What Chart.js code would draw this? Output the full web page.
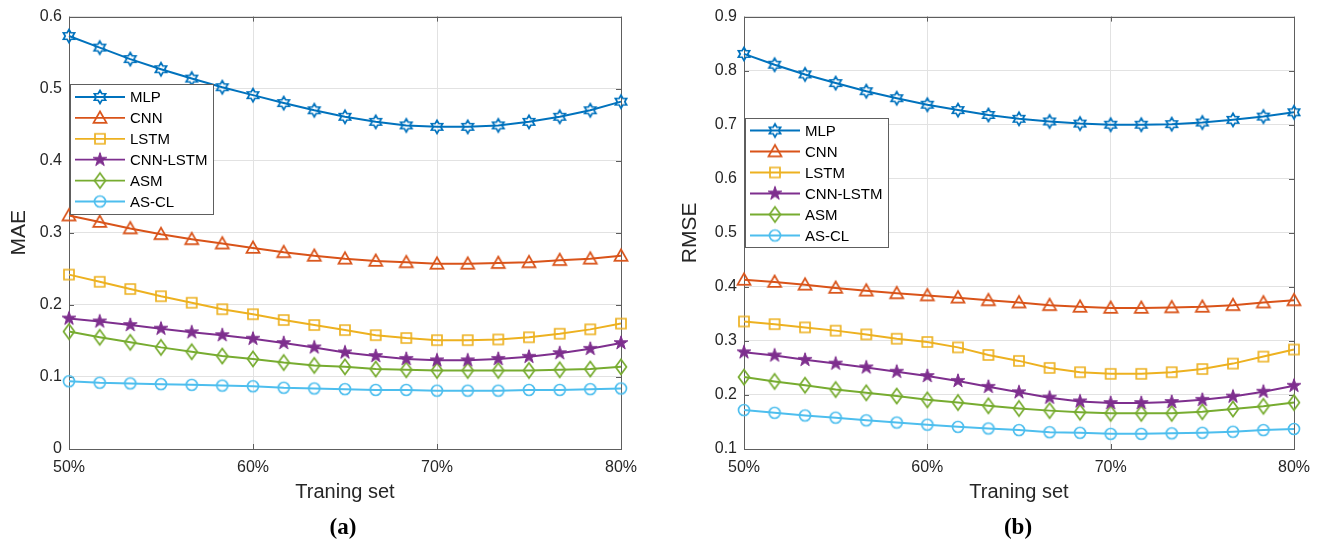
<!DOCTYPE html>
<html><head><meta charset="utf-8">
<script src="https://cdn.jsdelivr.net/npm/chart.js@4.4.0/dist/chart.umd.min.js"></script>
<style>
html,body{margin:0;padding:0;background:#fff;width:1323px;height:544px;overflow:hidden;position:relative}
#ca{position:absolute;left:0;top:0}
#cb{position:absolute;left:662px;top:0}
.cap{position:absolute;top:512px;font-family:'Liberation Serif','Times New Roman',serif;font-weight:bold;font-size:23px;color:#000;transform:translateX(-50%);line-height:30px}
</style></head><body>
<canvas id="ca" width="662" height="544"></canvas>
<canvas id="cb" width="661" height="544"></canvas>
<div class="cap" style="left:343px">(a)</div>
<div class="cap" style="left:1018px">(b)</div>
<script>
// ---- data ----
const trainingSet = [50, 51.67, 53.33, 55, 56.67, 58.33, 60, 61.67, 63.33, 65, 66.67, 68.33, 70, 71.67, 73.33, 75, 76.67, 78.33, 80];
const xTickValues = [50, 60, 70, 80];
const maeTickValues = [0, 0.1, 0.2, 0.3, 0.4, 0.5, 0.6];
const rmseTickValues = [0.1, 0.2, 0.3, 0.4, 0.5, 0.6, 0.7, 0.8, 0.9];
const seriesNames = ['MLP', 'CNN', 'LSTM', 'CNN-LSTM', 'ASM', 'AS-CL'];

const maeMLP     = [0.573, 0.557, 0.541, 0.527, 0.514, 0.502, 0.491, 0.480, 0.470, 0.461, 0.454, 0.449, 0.447, 0.447, 0.449, 0.454, 0.461, 0.470, 0.482];
const maeCNN     = [0.324, 0.315, 0.306, 0.298, 0.291, 0.285, 0.279, 0.273, 0.268, 0.264, 0.261, 0.259, 0.257, 0.257, 0.258, 0.259, 0.262, 0.264, 0.268];
const maeLSTM    = [0.242, 0.232, 0.222, 0.212, 0.203, 0.194, 0.187, 0.179, 0.172, 0.165, 0.158, 0.154, 0.151, 0.151, 0.152, 0.155, 0.160, 0.166, 0.174];
const maeCNNLSTM = [0.181, 0.177, 0.172, 0.167, 0.162, 0.158, 0.153, 0.147, 0.141, 0.134, 0.129, 0.125, 0.123, 0.123, 0.125, 0.128, 0.133, 0.139, 0.147];
const maeASM     = [0.163, 0.155, 0.148, 0.141, 0.135, 0.129, 0.125, 0.120, 0.116, 0.114, 0.111, 0.110, 0.109, 0.109, 0.109, 0.109, 0.110, 0.111, 0.114];
const maeASCL    = [0.094, 0.092, 0.091, 0.090, 0.089, 0.088, 0.087, 0.085, 0.084, 0.083, 0.082, 0.082, 0.081, 0.081, 0.081, 0.082, 0.082, 0.083, 0.084];

const rmseMLP     = [0.831, 0.811, 0.793, 0.777, 0.762, 0.749, 0.737, 0.727, 0.718, 0.711, 0.706, 0.702, 0.700, 0.700, 0.701, 0.704, 0.709, 0.715, 0.723];
const rmseCNN     = [0.413, 0.409, 0.404, 0.398, 0.393, 0.388, 0.384, 0.380, 0.375, 0.371, 0.366, 0.363, 0.361, 0.361, 0.362, 0.363, 0.366, 0.371, 0.375];
const rmseLSTM    = [0.336, 0.331, 0.325, 0.319, 0.312, 0.304, 0.298, 0.288, 0.274, 0.263, 0.250, 0.242, 0.239, 0.239, 0.242, 0.248, 0.258, 0.271, 0.284];
const rmseCNNLSTM = [0.279, 0.273, 0.265, 0.258, 0.251, 0.243, 0.235, 0.226, 0.215, 0.205, 0.195, 0.188, 0.185, 0.185, 0.187, 0.191, 0.197, 0.206, 0.217];
const rmseASM     = [0.233, 0.225, 0.218, 0.210, 0.204, 0.198, 0.191, 0.186, 0.180, 0.175, 0.171, 0.168, 0.166, 0.166, 0.166, 0.169, 0.174, 0.179, 0.186];
const rmseASCL    = [0.172, 0.167, 0.162, 0.158, 0.153, 0.149, 0.145, 0.141, 0.138, 0.135, 0.131, 0.130, 0.128, 0.128, 0.129, 0.130, 0.132, 0.135, 0.137];

// ---- styles ----
const colors = ['#0072BD', '#D95319', '#EDB120', '#7E2F8E', '#77AC30', '#4DBEEE'];
const markerKinds = ['hexagram', 'triangle', 'square', 'pentagram', 'diamond', 'circle'];
const FONT = "'Liberation Sans', Arial, Helvetica, sans-serif";
const TEXT = '#262626';

function makeMarker(kind, color) {
  const c = document.createElement('canvas');
  c.width = 20; c.height = 20;
  const g = c.getContext('2d');
  g.translate(10, 10);
  g.strokeStyle = color; g.fillStyle = color; g.lineWidth = 1.7; g.lineJoin = 'miter';
  g.beginPath();
  if (kind === 'hexagram') {
    const R = 6.5, r = R / Math.sqrt(3);
    for (let i = 0; i < 12; i++) {
      const a = -Math.PI / 2 + i * Math.PI / 6;
      const rr = i % 2 === 0 ? R : r;
      const px = Math.cos(a) * rr, py = Math.sin(a) * rr;
      i === 0 ? g.moveTo(px, py) : g.lineTo(px, py);
    }
    g.closePath(); g.stroke();
  } else if (kind === 'triangle') {
    g.moveTo(0, -6.5); g.lineTo(6.5, 4.8); g.lineTo(-6.5, 4.8); g.closePath(); g.stroke();
  } else if (kind === 'square') {
    g.rect(-5, -5, 10, 10); g.stroke();
  } else if (kind === 'pentagram') {
    const R = 7.2, r = R * 0.382;
    for (let i = 0; i < 10; i++) {
      const a = -Math.PI / 2 + i * Math.PI / 5;
      const rr = i % 2 === 0 ? R : r;
      const px = Math.cos(a) * rr, py = Math.sin(a) * rr;
      i === 0 ? g.moveTo(px, py) : g.lineTo(px, py);
    }
    g.closePath(); g.fill(); g.lineWidth = 1; g.stroke();
  } else if (kind === 'diamond') {
    g.moveTo(0, -7.5); g.lineTo(5.5, 0); g.lineTo(0, 7.5); g.lineTo(-5.5, 0); g.closePath(); g.stroke();
  } else {
    g.arc(0, 0, 5.5, 0, Math.PI * 2); g.stroke();
  }
  return c;
}
const markers = colors.map((c, i) => makeMarker(markerKinds[i], c));

function fmtTick(v) { return String(Number(v.toFixed(1))); }

const framePlugin = {
  id: 'matlabFrame',
  beforeDatasetsDraw(chart) {
    const { ctx, chartArea: a, scales } = chart;
    ctx.save();
    ctx.strokeStyle = '#5e5e5e'; ctx.lineWidth = 1;
    ctx.strokeRect(Math.round(a.left) + 0.5, Math.round(a.top) + 0.5, Math.round(a.right - a.left), Math.round(a.bottom - a.top));
    const tl = 5;
    ctx.beginPath();
    scales.x.ticks.forEach(t => {
      const px = Math.round(scales.x.getPixelForValue(t.value)) + 0.5;
      ctx.moveTo(px, a.bottom); ctx.lineTo(px, a.bottom - tl);
      ctx.moveTo(px, a.top); ctx.lineTo(px, a.top + tl);
    });
    scales.y.ticks.forEach(t => {
      const py = Math.round(scales.y.getPixelForValue(t.value)) + 0.5;
      ctx.moveTo(a.left, py); ctx.lineTo(a.left + tl, py);
      ctx.moveTo(a.right, py); ctx.lineTo(a.right - tl, py);
    });
    ctx.stroke();
    ctx.restore();
  }
};

const legendPlugin = {
  id: 'boxLegend',
  afterDraw(chart, args, opts) {
    const { ctx } = chart;
    ctx.save();
    ctx.fillStyle = '#fff';
    ctx.fillRect(opts.x, opts.y, opts.w, opts.h);
    ctx.strokeStyle = '#5e5e5e'; ctx.lineWidth = 1;
    ctx.strokeRect(opts.x + 0.5, opts.y + 0.5, opts.w, opts.h);
    ctx.font = '15px ' + FONT;
    ctx.textBaseline = 'middle';
    chart.data.datasets.forEach((ds, i) => {
      const ry = opts.row0 + i * opts.step;
      ctx.strokeStyle = ds.borderColor; ctx.lineWidth = 1.8;
      ctx.beginPath(); ctx.moveTo(opts.x + 5, ry); ctx.lineTo(opts.x + 55, ry); ctx.stroke();
      const m = ds.pointStyle;
      ctx.drawImage(m, opts.x + 30 - m.width / 2, ry - m.height / 2);
      ctx.fillStyle = '#000';
      ctx.fillText(ds.label, opts.x + 60, ry + 1);
    });
    ctx.restore();
  }
};

function makeChart(canvasId, series, yMin, yMax, yTicks, yTitle, yAxisWidth, yTitlePad, padRight, legendBox) {
  const datasets = series.map((vals, i) => ({
    label: seriesNames[i],
    data: trainingSet.map((x, j) => ({ x: x, y: vals[j] })),
    borderColor: colors[i],
    backgroundColor: colors[i],
    borderWidth: 2,
    pointStyle: markers[i],
    pointRadius: 6,
    pointHoverRadius: 6,
    tension: 0,
    clip: false
  }));
  return new Chart(document.getElementById(canvasId), {
    type: 'line',
    data: { datasets },
    plugins: [framePlugin, legendPlugin],
    options: {
      responsive: false,
      devicePixelRatio: 1,
      animation: false,
      events: [],
      layout: { padding: { left: 0, top: 14.5, right: padRight, bottom: 0 } },
      plugins: {
        legend: { display: false },
        tooltip: { enabled: false },
        boxLegend: legendBox
      },
      scales: {
        x: {
          type: 'linear', min: 50, max: 80,
          afterBuildTicks: s => { s.ticks = xTickValues.map(v => ({ value: v })); },
          afterFit: s => { s.height = 95; },
          grid: { color: '#e2e2e2', drawTicks: false },
          border: { display: false },
          ticks: { callback: v => v + '%', color: TEXT, font: { family: FONT, size: 16 }, padding: 9, maxRotation: 0, autoSkip: false },
          title: { display: true, text: 'Traning set', color: TEXT, font: { family: FONT, size: 20 }, padding: { top: 0, bottom: 40 } }
        },
        y: {
          min: yMin, max: yMax,
          afterBuildTicks: s => { s.ticks = yTicks.map(v => ({ value: v })); },
          afterFit: s => { s.width = yAxisWidth; },
          grid: { color: '#e2e2e2', drawTicks: false },
          border: { display: false },
          ticks: { callback: v => fmtTick(v), color: TEXT, font: { family: FONT, size: 16 }, padding: 7, autoSkip: false },
          title: { display: true, text: yTitle, color: TEXT, font: { family: FONT, size: 21 }, padding: { top: yTitlePad, bottom: 0 } }
        }
      }
    }
  });
}

makeChart('ca', [maeMLP, maeCNN, maeLSTM, maeCNNLSTM, maeASM, maeASCL], 0, 0.6, maeTickValues, 'MAE', 69, 7, 41,
  { x: 70, y: 84, w: 143, h: 130, row0: 97, step: 20.9 });
makeChart('cb', [rmseMLP, rmseCNN, rmseLSTM, rmseCNNLSTM, rmseASM, rmseASCL], 0.1, 0.9, rmseTickValues, 'RMSE', 82, 16, 29,
  { x: 83, y: 118, w: 143, h: 129, row0: 130.5, step: 21 });
</script>
</body></html>
